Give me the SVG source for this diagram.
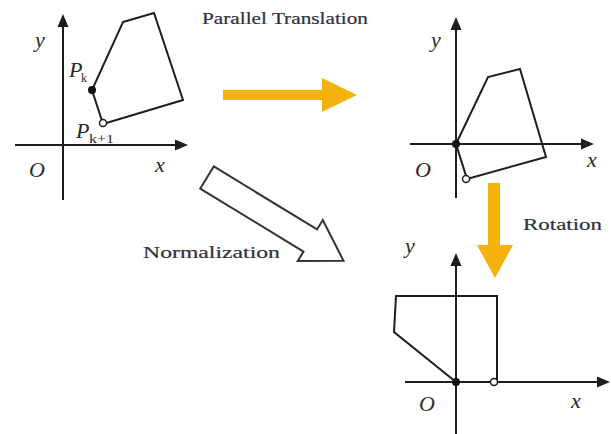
<svg xmlns="http://www.w3.org/2000/svg" width="611" height="434" viewBox="0 0 611 434">
<defs>
<style>
.ax{stroke:#1e1e1e;stroke-width:2;fill:none}
.poly{stroke:#1e1e1e;stroke-width:2;fill:none;stroke-linejoin:miter}
.head{fill:#1e1e1e}
.it{font-family:"Liberation Serif","Times New Roman",Times,serif;font-style:italic;font-size:22px;fill:#2a2a2a}
.lbl{font-family:"Liberation Serif","Times New Roman",Times,serif;font-size:17px;fill:#30303c;stroke:#30303c;stroke-width:0.2}
.sub{font-family:"Liberation Serif","Times New Roman",Times,serif;font-size:12px;fill:#2a2a2a}
.org{fill:#F5B20C}
</style>
</defs>
<rect width="611" height="434" fill="#fff"/>
<g id="panel1">
<line class="ax" x1="63" y1="200" x2="63" y2="24"/>
<polygon class="head" points="63,14 57.5,27 68.5,27"/>
<line class="ax" x1="15" y1="145" x2="178" y2="145"/>
<polygon class="head" points="188,145 175,139.5 175,150.5"/>
<polygon class="poly" points="123,22 154,13 183,100 103,124 92,90"/>
<circle cx="92" cy="90" r="4" fill="#111"/>
<circle cx="103" cy="123" r="3.5" fill="#fff" stroke="#1e1e1e" stroke-width="1.5"/>
<text class="it" x="35" y="47">y</text>
<text class="it" x="29" y="177">O</text>
<text class="it" x="155" y="172">x</text>
<text class="it" x="69" y="77" font-size="19">P</text>
<text class="sub" x="81" y="82">k</text>
<text class="it" x="76" y="138" font-size="19">P</text>
<text class="sub" x="89" y="143" textLength="25" lengthAdjust="spacingAndGlyphs">k+1</text>
</g>
<g id="panel2">
<line class="ax" x1="456" y1="198" x2="456" y2="27"/>
<polygon class="head" points="456,17 450.5,30 461.5,30"/>
<line class="ax" x1="410" y1="144" x2="584" y2="144"/>
<polygon class="head" points="594,144 581,138.5 581,149.5"/>
<polygon class="poly" points="456,144 488,77 520,69 546,157 467,179"/>
<circle cx="456" cy="144" r="4" fill="#111"/>
<circle cx="466" cy="179" r="3.5" fill="#fff" stroke="#1e1e1e" stroke-width="1.5"/>
<text class="it" x="431" y="47">y</text>
<text class="it" x="415" y="177">O</text>
<text class="it" x="587" y="167">x</text>
</g>
<g id="panel3">
<line class="ax" x1="456" y1="434" x2="456" y2="263"/>
<polygon class="head" points="456,253 450.5,266 461.5,266"/>
<line class="ax" x1="405" y1="382" x2="600" y2="382"/>
<polygon class="head" points="610,382 597,376.5 597,387.5"/>
<polygon class="poly" points="396,296 497,296 497,382 456,382 394,332"/>
<circle cx="456" cy="382" r="4" fill="#111"/>
<circle cx="494" cy="382" r="3.5" fill="#fff" stroke="#1e1e1e" stroke-width="1.5"/>
<text class="it" x="405" y="253">y</text>
<text class="it" x="419" y="411">O</text>
<text class="it" x="571" y="408">x</text>
</g>
<g id="connectors">
<g id="translation-arrow">
<rect class="org" x="223" y="90" width="100" height="10"/>
<polygon class="org" points="322,78 357,95 322,112"/>
</g>
<g id="rotation-arrow">
<rect class="org" x="488" y="183" width="12" height="63"/>
<polygon class="org" points="477,245 513,245 495,278"/>
</g>
<g id="normalization-arrow" transform="translate(207,177.5) rotate(31.4)">
<polygon points="0,-13 121,-13 121,-24 160,0 121,24 121,13 0,13" fill="#fff" stroke="#333" stroke-width="2" stroke-linejoin="miter"/>
</g>
</g>
<g id="labels">
<text class="lbl" x="202" y="24" textLength="166" lengthAdjust="spacingAndGlyphs">Parallel Translation</text>
<text class="lbl" x="143" y="258" font-size="19" textLength="137" lengthAdjust="spacingAndGlyphs">Normalization</text>
<text class="lbl" x="523" y="230" font-size="19" textLength="79" lengthAdjust="spacingAndGlyphs">Rotation</text>
</g>
</svg>
